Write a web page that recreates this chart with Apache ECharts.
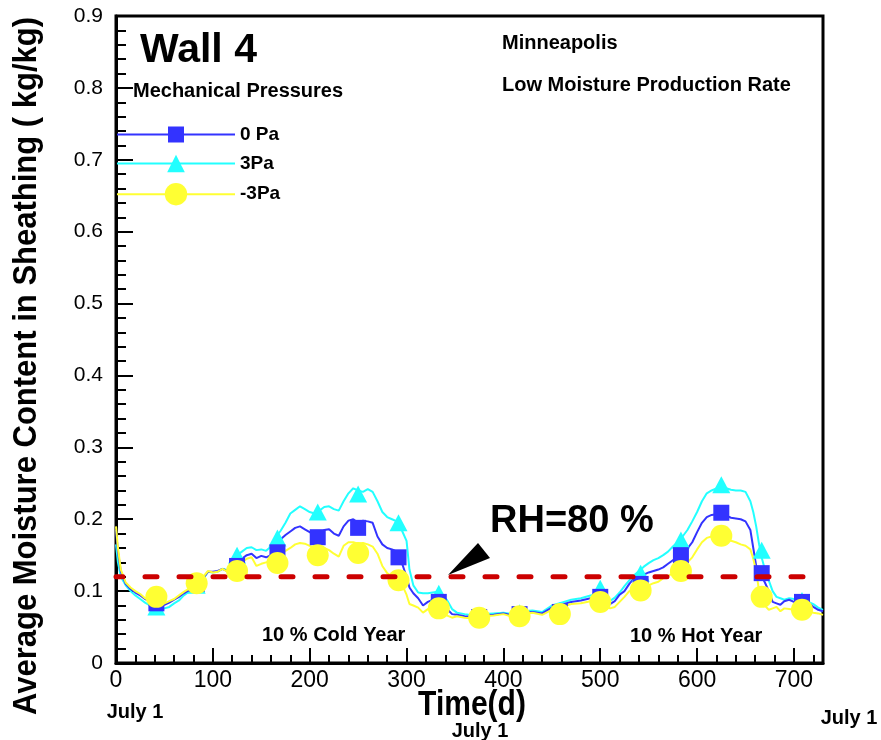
<!DOCTYPE html>
<html><head><meta charset="utf-8">
<script src="https://cdn.jsdelivr.net/npm/echarts@6/dist/echarts.min.js"></script>
<style>html,body{margin:0;padding:0;background:#fff}#c{width:881px;height:740px}</style>
</head><body><div id="c"></div>
<script>
// ---- data (time in days, moisture content in kg/kg) ----
const days = [0,2,5,
  10,15,20,25,30,35,40,45,50,55,60,65,70,75,80,85,90,95,100,105,110,115,120,125,130,135,140,145,150,155,160,165,170,175,180,185,190,195,200,205,210,215,220,225,230,235,240,245,250,255,260,265,270,275,280,285,290,295,300,
  303,307,312,317,322,327,332,337,342,347,352,
  360,370,380,390,400,410,420,430,440,450,460,470,480,490,500,
  505,510,515,520,525,530,535,540,545,550,555,560,565,570,575,580,585,590,595,600,605,610,615,620,625,630,635,640,645,650,655,
  658,661,664,667,670,674,678,682,686,690,
  695,700,705,710,715,720,725,730];
const pa0 = [0.185,0.155,0.127,
  0.11,0.103,0.098,0.094,0.089,0.086,0.083,0.08,0.081,0.084,0.088,0.092,0.097,0.101,0.106,0.11,0.118,0.127,0.127,0.128,0.131,0.128,0.135,0.138,0.145,0.15,0.152,0.146,0.149,0.147,0.15,0.16,0.172,0.178,0.183,0.188,0.19,0.186,0.182,0.178,0.18,0.185,0.186,0.18,0.177,0.19,0.198,0.2,0.195,0.198,0.197,0.195,0.176,0.165,0.16,0.158,0.155,0.14,0.12,
  0.105,0.097,0.09,0.08,0.085,0.088,0.085,0.082,0.075,0.068,0.067,
  0.065,0.064,0.066,0.067,0.069,0.066,0.07,0.071,0.069,0.077,0.081,0.085,0.087,0.09,0.092,
  0.085,0.082,0.086,0.095,0.1,0.11,0.118,0.12,0.123,0.126,0.128,0.13,0.133,0.138,0.143,0.148,0.153,0.159,0.168,0.182,0.195,0.203,0.206,0.207,0.208,0.205,0.202,0.201,0.2,0.197,0.185,
  0.16,0.135,0.125,0.12,0.112,0.1,0.085,0.083,0.081,0.086,
  0.088,0.085,0.084,0.085,0.083,0.078,0.074,0.072];
const pa3 = [0.165,0.14,0.12,
  0.108,0.1,0.094,0.089,0.084,0.08,0.077,0.074,0.076,0.078,0.083,0.087,0.094,0.099,0.104,0.108,0.117,0.127,0.126,0.127,0.131,0.129,0.14,0.15,0.155,0.16,0.161,0.157,0.158,0.156,0.162,0.175,0.184,0.195,0.208,0.213,0.218,0.214,0.21,0.208,0.212,0.217,0.218,0.214,0.212,0.225,0.236,0.243,0.24,0.238,0.242,0.238,0.225,0.21,0.203,0.2,0.197,0.185,0.17,
  0.13,0.108,0.098,0.097,0.097,0.098,0.099,0.095,0.087,0.075,0.07,
  0.068,0.066,0.068,0.069,0.07,0.068,0.072,0.073,0.071,0.08,0.084,0.088,0.09,0.094,0.097,
  0.09,0.086,0.091,0.098,0.107,0.115,0.122,0.128,0.134,0.139,0.143,0.146,0.15,0.155,0.162,0.168,0.176,0.185,0.197,0.21,0.225,0.236,0.24,0.243,0.244,0.243,0.241,0.24,0.24,0.238,0.225,
  0.21,0.19,0.165,0.145,0.13,0.115,0.1,0.092,0.09,0.088,
  0.09,0.089,0.087,0.087,0.085,0.082,0.077,0.074];
const paM3 = [0.19,0.16,0.13,
  0.112,0.105,0.1,0.096,0.09,0.088,0.087,0.082,0.083,0.086,0.089,0.094,0.099,0.103,0.108,0.111,0.12,0.128,0.126,0.127,0.131,0.127,0.13,0.128,0.14,0.145,0.147,0.135,0.138,0.14,0.14,0.143,0.15,0.156,0.16,0.165,0.167,0.166,0.163,0.16,0.158,0.16,0.157,0.152,0.148,0.163,0.168,0.168,0.166,0.167,0.165,0.162,0.152,0.135,0.125,0.12,0.117,0.11,0.095,
  0.082,0.08,0.077,0.07,0.075,0.073,0.075,0.07,0.066,0.063,0.065,
  0.063,0.062,0.065,0.066,0.068,0.064,0.068,0.07,0.067,0.074,0.078,0.082,0.083,0.086,0.088,
  0.08,0.076,0.078,0.085,0.092,0.1,0.102,0.098,0.102,0.108,0.111,0.113,0.118,0.121,0.125,0.127,0.133,0.14,0.147,0.158,0.168,0.174,0.176,0.177,0.177,0.174,0.17,0.168,0.165,0.163,0.158,
  0.145,0.128,0.1,0.09,0.08,0.074,0.076,0.078,0.072,0.076,
  0.075,0.074,0.073,0.075,0.072,0.07,0.069,0.067];
const markerDays = [41.7,83.3,125,166.7,208.3,250,291.7,333.3,375,416.7,458.3,500,541.7,583.3,625,666.7,708.3];
const pa0Markers  = [0.083,0.11,0.135,0.154,0.175,0.188,0.147,0.085,0.064,0.068,0.071,0.092,0.11,0.15,0.209,0.125,0.085];
const pa3Markers  = [0.078,0.108,0.15,0.174,0.21,0.235,0.195,0.097,0.066,0.07,0.073,0.104,0.125,0.171,0.248,0.157,0.087];
const paM3Markers = [0.092,0.111,0.128,0.139,0.150,0.153,0.115,0.076,0.063,0.065,0.068,0.085,0.101,0.128,0.177,0.092,0.074];
const rhLevel = 0.12;
const seriesNames = ['0 Pa', '3Pa', '-3Pa'];

const BLUE = '#3333ff', CYAN = '#22ffff', YELLOW = '#ffff33', RED = '#cc0000';
const ARIAL = "'Liberation Sans', Arial, sans-serif";

const pts = (xs, ys) => xs.map((x, i) => [x, ys[i]]);

const chart = echarts.init(document.getElementById('c'), null, {renderer: 'canvas'});

function lineSeries(name, vals, color, symbol, z) {
  return {
    name, type: 'line', data: pts(days, vals), symbol, showSymbol: false,
    lineStyle: {color, width: 2}, itemStyle: {color}, z, animation: false, silent: true
  };
}
function markerSeries(name, vals, color, symbol, size, z) {
  return {
    name, type: 'scatter', data: pts(markerDays, vals), symbol, symbolSize: size,
    itemStyle: {color, opacity: 1}, z, animation: false, silent: true
  };
}
function legendFor(name, top, h) {
  return {
    data: [name], left: 116, top, orient: 'vertical', padding: 0,
    itemWidth: 118, itemHeight: h, selectedMode: false,
    textStyle: {fontFamily: ARIAL, fontWeight: 'bold', fontSize: 19, color: '#000'}
  };
}
const txt = (text, x, y, size, opts = {}) => ({
  type: 'text', x, y, rotation: opts.rotation || 0, scaleX: opts.sx || 1, scaleY: opts.sy || 1, z: 100,
  style: {text, font: `${opts.weight || 'bold'} ${size}px ${ARIAL}`, fill: '#000',
          textAlign: opts.align || 'left', textVerticalAlign: 'middle'}
});

chart.setOption({
  animation: false,
  grid: {left: 116, right: 58, top: 16, bottom: 77, show: true, borderColor: '#000', borderWidth: 3},
  legend: [legendFor(seriesNames[0], 125, 20), legendFor(seriesNames[1], 154, 22), legendFor(seriesNames[2], 183, 28)],
  xAxis: {
    type: 'value', min: 0, max: 730, interval: 100,
    axisLine: {lineStyle: {color: '#000', width: 3}},
    axisTick: {inside: true, length: 15, lineStyle: {color: '#000', width: 2}},
    minorTick: {show: true, splitNumber: 5, length: 8, lineStyle: {color: '#000', width: 2}},
    splitLine: {show: false},
    axisLabel: {fontFamily: ARIAL, fontSize: 23, color: '#000', margin: 6}
  },
  yAxis: {
    type: 'value', min: 0, max: 0.9, interval: 0.1,
    axisLine: {lineStyle: {color: '#000', width: 3}},
    axisTick: {inside: true, length: 17, lineStyle: {color: '#000', width: 2}},
    minorTick: {show: true, splitNumber: 5, length: 10, lineStyle: {color: '#000', width: 2}},
    splitLine: {show: false},
    axisLabel: {fontFamily: ARIAL, fontSize: 21, color: '#000', margin: 13,
      formatter: v => (Math.abs(v) < 1e-9 ? '0' : v.toFixed(1))}
  },
  series: [
    lineSeries(seriesNames[1], pa3, CYAN, 'triangle', 2),
    lineSeries(seriesNames[0], pa0, BLUE, 'rect', 3),
    lineSeries(seriesNames[2], paM3, YELLOW, 'circle', 4),
    markerSeries('3Pa markers', pa3Markers, CYAN, 'triangle', [18, 17], 5),
    markerSeries('0 Pa markers', pa0Markers, BLUE, 'rect', 16, 6),
    markerSeries('-3Pa markers', paM3Markers, YELLOW, 'circle', 22, 7),
    {
      name: 'RH=80 %', type: 'line', data: [[0, rhLevel], [730, rhLevel]], symbol: 'none', z: 8,
      lineStyle: {color: RED, width: 5, type: [12, 22], dashOffset: 5, cap: 'round'}, silent: true
    }
  ],
  graphic: [
    txt('Wall 4', 140, 51, 41),
    txt('Mechanical Pressures', 133, 91, 20),
    txt('Minneapolis', 502, 43, 20),
    txt('Low Moisture Production Rate', 502, 85, 20),
    txt('RH=80 %', 490, 522, 38),
    txt('10 % Cold Year', 262, 635, 20),
    txt('10 % Hot Year', 630, 636, 20),
    txt('Average Moisture Content in Sheathing ( kg/kg)', 27, 366, 31, {align: 'center', rotation: Math.PI / 2, sy: 1.1}),
    txt('Time(d)', 472, 705, 30, {align: 'center', sy: 1.15}),
    txt('July 1', 135, 712, 20, {align: 'center'}),
    txt('July 1', 480, 731, 20, {align: 'center'}),
    txt('July 1', 849, 718, 20, {align: 'center'}),
    {type: 'polygon', z: 100, shape: {points: [[448, 575], [478, 543], [490, 558]]}, style: {fill: '#000'}}
  ]
});
</script></body></html>
